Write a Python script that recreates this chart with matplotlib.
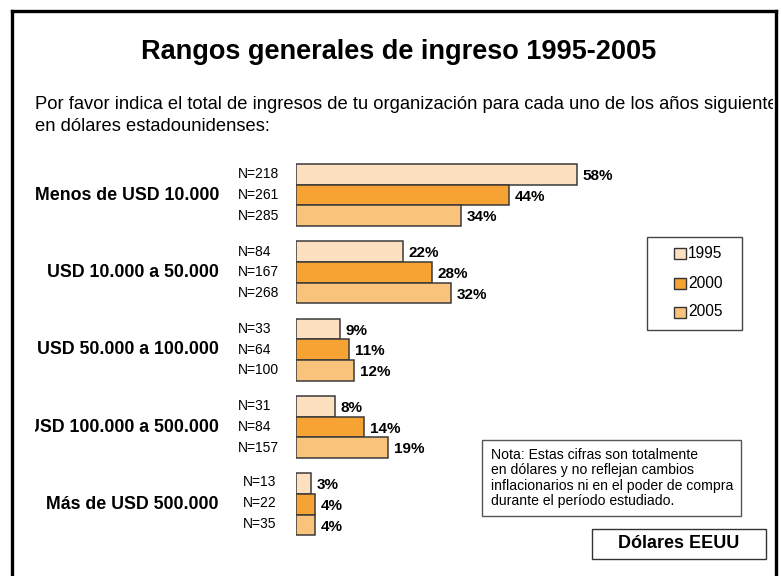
import matplotlib
matplotlib.use("Agg")
import matplotlib.pyplot as plt
from matplotlib.patches import Rectangle
from matplotlib.lines import Line2D
from matplotlib.transforms import Bbox, TransformedBbox

plt.rcParams['font.family'] = ['Liberation Sans', 'DejaVu Sans']

# ---------------- data ----------------
categories = ["Menos de USD 10.000", "USD 10.000 a 50.000", "USD 50.000 a 100.000",
              "USD 100.000 a 500.000", "Más de USD 500.000"]
years = ["1995", "2000", "2005"]
pct_1995 = [58, 22, 9, 8, 3]
pct_2000 = [44, 28, 11, 14, 4]
pct_2005 = [34, 32, 12, 19, 4]
n_1995 = [218, 84, 33, 31, 13]
n_2000 = [261, 167, 64, 84, 22]
n_2005 = [285, 268, 100, 157, 35]
colors = ["#FDE0BF", "#F7A333", "#FAC37C"]

title = "Rangos generales de ingreso 1995-2005"
subtitle1 = "Por favor indica el total de ingresos de tu organización para cada uno de los años siguientes"
subtitle2 = "en dólares estadounidenses:"
note_lines = ["Nota: Estas cifras son totalmente",
              "en dólares y no reflejan cambios",
              "inflacionarios ni en el poder de compra",
              "durante el período estudiado."]
unit_label = "Dólares EEUU"

# ---------------- layout helpers ----------------
W, H = 781, 576
fig = plt.figure(figsize=(W / 100, H / 100), dpi=100)
fig.patch.set_facecolor("white")

def fx(px):
    return px / W

def fy(py):
    return 1 - py / H

# axes: x=0 at px 296, 4.845 px per percent; group centers at 195 + 77.35*g px
x0_px, ppu = 296, 4.845
gsp, gc0 = 77.35, 195
ax_top, ax_bot = 150, 560
ax = fig.add_axes([fx(x0_px), fy(ax_bot), 100 * ppu / W, (ax_bot - ax_top) / H])
ax.set_xlim(0, 100)
ax.set_ylim((ax_bot - gc0) / gsp, (ax_top - gc0) / gsp)
ax.axis("off")

bh = 20.7 / gsp
series = [pct_1995, pct_2000, pct_2005]
ns = [n_1995, n_2000, n_2005]
for k, (vals, col, nvals) in enumerate(zip(series, colors, ns)):
    ypos = [g + (k - 1) * bh for g in range(len(categories))]
    ax.barh(ypos, vals, height=bh, color=col, edgecolor="#3a3a3a", linewidth=1.1,
            label=years[k])
    for g, (y, v, n) in enumerate(zip(ypos, vals, nvals)):
        ax.text(v + 1.2, y + 0.02, f"{v}%", ha="left", va="center",
                fontsize=11, fontweight="bold", color="black")
        nx_px = 243 if g == len(categories) - 1 else 238
        nyoff = -0.02 if g == len(categories) - 1 else 0.0
        ax.text((nx_px - x0_px) / ppu, y + nyoff, f"N={n}", ha="left", va="center",
                fontsize=10, color="black", clip_on=False)

clipbox = TransformedBbox(Bbox([[fx(35), 0], [fx(773), 1]]), fig.transFigure)
for g, cat in enumerate(categories):
    t = ax.text((219 - x0_px) / ppu, g, cat, ha="right", va="center",
                fontsize=12.8, fontweight="bold", color="black")
    t.set_clip_box(clipbox)
    t.set_clip_on(True)

# title & subtitle
fig.text(fx(399), fy(59), title, ha="center", va="baseline",
         fontsize=19.5, fontweight="bold", color="black")
s1 = fig.text(fx(35), fy(109), subtitle1, ha="left", va="baseline", fontsize=13.2, color="black")
s1.set_clip_box(clipbox)
s1.set_clip_on(True)
fig.text(fx(35), fy(131), subtitle2, ha="left", va="baseline", fontsize=13.2, color="black")

# legend (manual box)
fig.patches.append(Rectangle((fx(647), fy(330)), fx(742) - fx(647), fy(237) - fy(330),
                             transform=fig.transFigure, facecolor="white",
                             edgecolor="#444444", linewidth=1.0))
row_y = [254, 283, 312]
for lab, col, ry in zip(years, colors, row_y):
    fig.patches.append(Rectangle((fx(674), fy(ry + 5.5)), 12 / W, 11 / H,
                                 transform=fig.transFigure, facecolor=col,
                                 edgecolor="#333333", linewidth=1.0))
    fig.text(fx(688), fy(ry), lab, ha="left", va="center", fontsize=11.2, color="black")

# note box
fig.patches.append(Rectangle((fx(482), fy(516)), fx(741) - fx(482), fy(440) - fy(516),
                             transform=fig.transFigure, facecolor="white",
                             edgecolor="#555555", linewidth=1.0))
for i, line in enumerate(note_lines):
    fig.text(fx(491), fy(455 + i * 15.3), line, ha="left", va="center",
             fontsize=10.1, color="black")

# unit box
fig.patches.append(Rectangle((fx(592), fy(559)), fx(766) - fx(592), fy(529) - fy(559),
                             transform=fig.transFigure, facecolor="white",
                             edgecolor="#333333", linewidth=1.0))
fig.text(fx(679), fy(544), unit_label, ha="center", va="center",
         fontsize=13, fontweight="bold", color="black")

# outer frame (left, top, right)
for xs, ys in [([11.5, 11.5], [576, 10.5]), ([11.5, 776], [10.5, 10.5]), ([776, 776], [10.5, 576])]:
    fig.lines.append(Line2D([fx(x) for x in xs], [fy(y) for y in ys],
                            transform=fig.transFigure, color="black", linewidth=2.4,
                            solid_capstyle="projecting"))

fig.savefig("out.png", dpi=100, facecolor="white")
